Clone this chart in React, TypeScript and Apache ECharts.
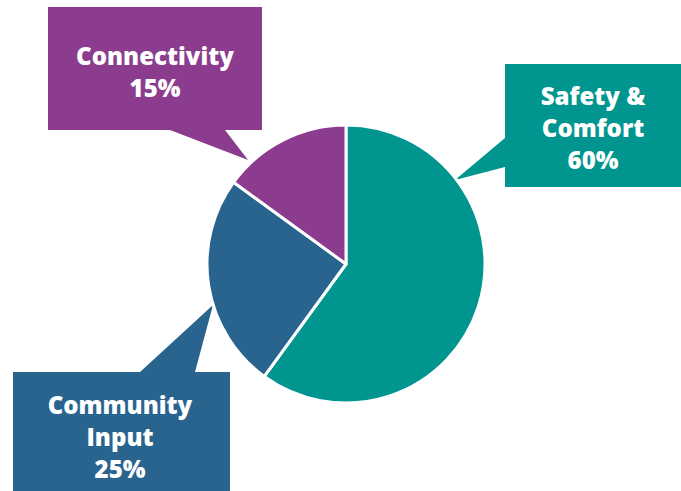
import React, { useEffect, useRef } from "react";
import * as echarts from "echarts";

const categories = ["Safety & Comfort", "Community Input", "Connectivity"];
const labelLines = ["Safety &\nComfort", "Community\nInput", "Connectivity"];
const values = [60, 25, 15];
const colors = ["#00968f", "#29648f", "#8b3c8e"];

export default function App() {
  const ref = useRef<HTMLDivElement>(null);
  useEffect(() => {
    if (!ref.current) return;
    const chart = echarts.init(ref.current, undefined, { renderer: "svg" });
    const boxes = [
      // Safety
      {
        pts: [[505, 64], [681, 64], [681, 187], [505, 187], [505, 167], [455, 180], [505, 138]],
        tx: 593,
        ty: 127,
      },
      // Community
      {
        pts: [[13, 372], [140, 372], [213, 305], [195, 372], [230, 372], [230, 491], [13, 491]],
        tx: 120,
        ty: 436,
      },
      // Connectivity
      {
        pts: [[48, 7], [262, 7], [262, 130], [225, 130], [248, 160], [170, 130], [48, 130]],
        tx: 155,
        ty: 71,
      },
    ];
    const graphic: any[] = [];
    boxes.forEach((b, i) => {
      graphic.push({
        type: "polygon",
        z: 1,
        shape: { points: b.pts },
        style: { fill: colors[i] },
      });
      graphic.push({
        type: "text",
        z: 3,
        x: b.tx,
        y: b.ty,
        style: {
          text: `${labelLines[i]}\n${values[i]}%`,
          fill: "#ffffff",
          fontSize: 24,
          fontWeight: 800,
          fontFamily: "Open Sans",
          lineHeight: 32,
          align: "center",
          verticalAlign: "middle",
        },
      });
    });
    chart.setOption({
      animation: false,
      backgroundColor: "#ffffff",
      graphic,
      series: [
        {
          type: "pie",
          z: 2,
          center: [346, 264],
          radius: 139,
          startAngle: 90,
          clockwise: true,
          label: { show: false },
          labelLine: { show: false },
          itemStyle: { borderColor: "#ffffff", borderWidth: 3 },
          emphasis: { disabled: true },
          data: categories.map((c, i) => ({
            name: c,
            value: values[i],
            itemStyle: { color: colors[i] },
          })),
        },
      ],
    });
    return () => chart.dispose();
  }, []);
  return (
    <div
      ref={ref}
      style={{ position: "fixed", left: 0, top: 0, width: 681, height: 491, background: "#fff" }}
    />
  );
}
